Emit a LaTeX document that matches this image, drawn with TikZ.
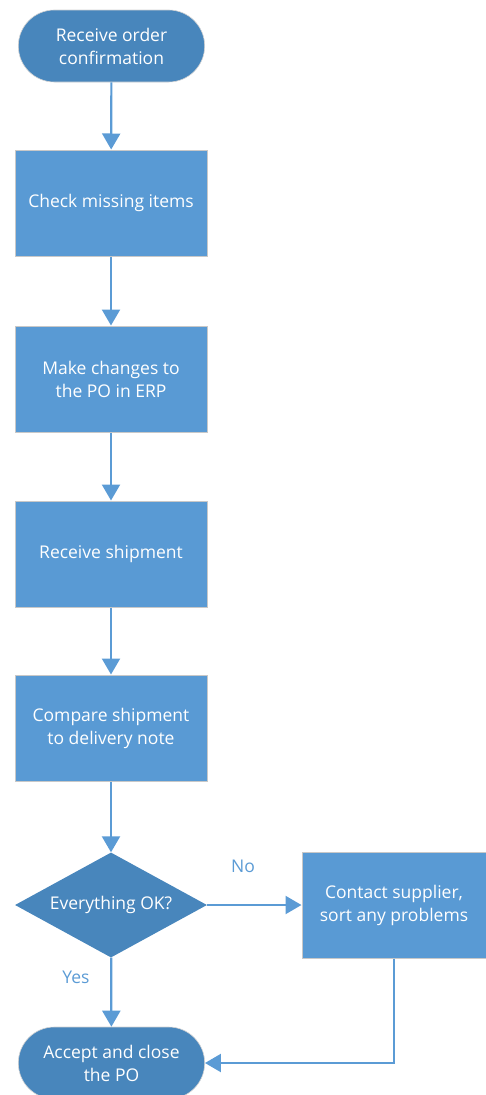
\documentclass[tikz,border=0pt]{standalone}
\usepackage{fontspec}
\setmainfont{Open Sans}
\usetikzlibrary{
    shapes.geometric, shapes.misc,
    arrows.meta, calc
}
\definecolor{colBox}{RGB}{89, 154, 212}
\definecolor{colDark}{RGB}{72, 134, 188}
\definecolor{colEdge}{RGB}{200, 200, 200}
\definecolor{colLine}{RGB}{91, 155, 213}

\begin{document}
\begin{tikzpicture}[x=1pt, y=-1pt,
    every node/.style={font=\fontsize{17.5}{23}\selectfont, align=center},
    procbox/.style={rectangle, fill=colBox, draw=colEdge, line width=1pt,
        text=white, minimum width=192pt, minimum height=106pt},
    termbox/.style={rounded rectangle, fill=colDark, draw=colEdge!80, line width=0.6pt,
        text=white, minimum width=193pt, minimum height=72pt},
    decbox/.style={diamond, fill=colDark, text=white, aspect=1.83, inner sep=0pt,
        minimum width=192pt, minimum height=105pt},
    flow/.style={draw=colLine, line width=2.2pt,
        -{Triangle[width=18pt, length=16pt]}},
    tag/.style={text=colLine}
]
    \useasboundingbox (0,0) rectangle (486,1095);

    % --- main column ---
    \node[termbox] (start) at (111.5, 46) {Receive order\\confirmation};
    \node[procbox] (check) at (111, 203) {Check missing items};
    \node[procbox] (change) at (111, 379) {Make changes to\\the PO in ERP};
    \node[procbox] (ship) at (111, 554) {Receive shipment};
    \node[procbox] (compare) at (111, 728) {Compare shipment\\to delivery note};
    \node[decbox] (ok) at (111, 905) {Everything OK?};
    \node[termbox] (accept) at (111.5, 1063) {Accept and close\\the PO};

    % --- side branch ---
    \node[procbox, minimum width=184pt] (contact) at (394, 905)
        {Contact supplier,\\sort any problems};

    % --- connectors ---
    \draw[flow] (start) -- (check);
    \draw[flow] (check) -- (change);
    \draw[flow] (change) -- (ship);
    \draw[flow] (ship) -- (compare);
    \draw[flow] (compare) -- (ok);
    \draw[flow] (ok) -- (accept);
    \draw[flow] (ok) -- (contact);
    \draw[flow] (contact.south) |- (accept.east);

    % labels
    \node[tag] (no) at (243, 866) {No};
    \node[tag] (yes) at (76, 977) {Yes};

\end{tikzpicture}
\end{document}
